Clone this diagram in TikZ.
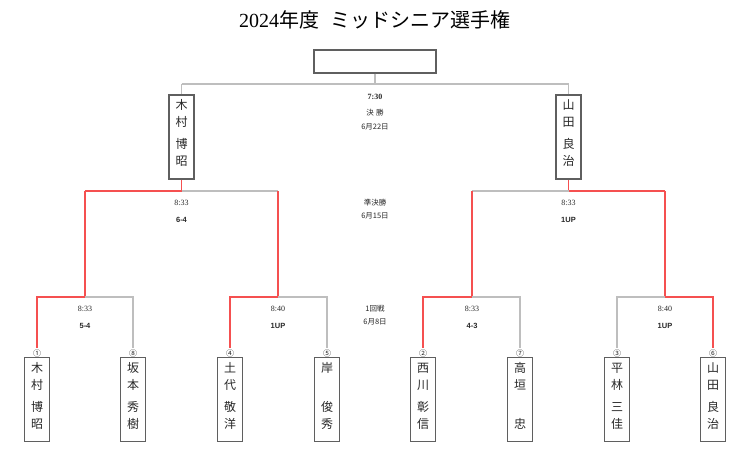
\documentclass[tikz,border=0pt]{standalone}
\usepackage{fontspec}
\setmainfont{Liberation Serif}
\newfontfamily\cjk{Noto Sans CJK JP}
\newfontfamily\scorefont{Liberation Sans}
\definecolor{winred}{RGB}{245,80,80}
\definecolor{losegray}{RGB}{190,190,190}
\definecolor{boxgray}{RGB}{95,95,95}
\definecolor{txt}{RGB}{40,40,40}
\begin{document}
\begin{tikzpicture}[x=1pt,y=-1pt,
  namebox/.style={draw=boxgray, line width=1.1pt, minimum width=25pt, minimum height=84pt, inner sep=0pt},
  champbox/.style={draw=boxgray, line width=1.1pt, minimum width=122pt, minimum height=23pt, inner sep=0pt},
  nametext/.style={font=\cjk\fontsize{12}{17}\selectfont, align=center, inner sep=0pt, text=txt},
  numtext/.style={font=\cjk\fontsize{8}{9}\selectfont, inner sep=0pt, text=txt},
  timetext/.style={font=\fontsize{8}{9}\selectfont, inner sep=0pt, text=txt},
  scoretext/.style={font=\scorefont\bfseries\fontsize{7.5}{9}\selectfont, inner sep=0pt, text=txt},
  roundtext/.style={font=\cjk\fontsize{7.5}{9}\selectfont, inner sep=0pt, text=txt},
  win/.style={draw=winred, line width=1.2pt},
  lose/.style={draw=losegray, line width=1.2pt}
]
\useasboundingbox (0,0) rectangle (750,464);
\fill[white] (0,0) rectangle (750,464);

% title
\node[font=\cjk\fontsize{20}{24}\selectfont, inner sep=0pt, text=black] (title) at (375,20) {{\rmfamily 2024}年度\hspace{0.6em}ミッドシニア選手権};

% champion box
\node[champbox] (champ) at (375,61.5) {};

% finalists
\node[namebox] (F1) at (181.5,137) {};
\node[nametext] (F1t) at (181.5,133) {木\\村\\[5pt]博\\昭};
\node[namebox] (F2) at (568.5,137) {};
\node[nametext] (F2t) at (568.5,133) {山\\田\\[5pt]良\\治};

% final bracket
\coordinate (fC) at (375,84);
\coordinate (fL) at (181.5,84);
\coordinate (fR) at (568.5,84);
\draw[lose] (champ.south) -- (fC);
\draw[lose] (fL) -- (fR);
\draw[lose] (fL) -- (F1.north);
\draw[lose] (fR) -- (F2.north);
\node[timetext, font=\bfseries\fontsize{8}{9}\selectfont] (t0) at (375,97) {7:30};
\node[roundtext] (r0) at (375,113) {決\hspace{0.3em}勝};
\node[roundtext] (d0) at (375,127) {6月22日};

% semifinal brackets
\coordinate (sL) at (85,191);
\coordinate (sM) at (181.5,191);
\coordinate (sR) at (278,191);
\coordinate (tL) at (472,191);
\coordinate (tM) at (568.5,191);
\coordinate (tR) at (665,191);
\draw[win] (F1.south) -- (sM);
\draw[win] (sM) -- (sL);
\draw[lose] (sM) -- (sR);
\draw[win] (F2.south) -- (tM);
\draw[lose] (tM) -- (tL);
\draw[win] (tM) -- (tR);

\node[timetext] (t1) at (181.5,203) {8:33};
\node[scoretext] (s1) at (181.5,220) {6-4};
\node[timetext] (t2) at (568.5,203) {8:33};
\node[scoretext] (s2) at (568.5,220) {1UP};
\node[roundtext] (r1) at (375,203) {準決勝};
\node[roundtext] (d1) at (375,216) {6月15日};

% first-round bracket points
\coordinate (a1) at (37,297);  \coordinate (m1) at (85,297);  \coordinate (b1) at (133,297);
\coordinate (a2) at (230,297); \coordinate (m2) at (278,297); \coordinate (b2) at (327,297);
\coordinate (a3) at (423,297); \coordinate (m3) at (472,297); \coordinate (b3) at (520,297);
\coordinate (a4) at (617,297); \coordinate (m4) at (665,297); \coordinate (b4) at (713,297);

\draw[win] (sL) -- (m1);
\draw[win] (sR) -- (m2);
\draw[win] (tL) -- (m3);
\draw[win] (tR) -- (m4);

% circled numbers
\node[numtext] (n1) at (37,353) {①};
\node[numtext] (n8) at (133,353) {⑧};
\node[numtext] (n4) at (230,353) {④};
\node[numtext] (n5) at (327,353) {⑤};
\node[numtext] (n2) at (423,353) {②};
\node[numtext] (n7) at (520,353) {⑦};
\node[numtext] (n3) at (617,353) {③};
\node[numtext] (n6) at (713,353) {⑥};

\draw[win] (m1) -- (a1) -- ([yshift=1.5pt]n1.north);
\draw[lose] (m1) -- (b1) -- ([yshift=1.5pt]n8.north);
\draw[win] (m2) -- (a2) -- ([yshift=1.5pt]n4.north);
\draw[lose] (m2) -- (b2) -- ([yshift=1.5pt]n5.north);
\draw[win] (m3) -- (a3) -- ([yshift=1.5pt]n2.north);
\draw[lose] (m3) -- (b3) -- ([yshift=1.5pt]n7.north);
\draw[lose] (m4) -- (a4) -- ([yshift=1.5pt]n3.north);
\draw[win] (m4) -- (b4) -- ([yshift=1.5pt]n6.north);

\node[timetext] (t3) at (85,309) {8:33};
\node[scoretext] (s3) at (85,326) {5-4};
\node[timetext] (t4) at (278,309) {8:40};
\node[scoretext] (s4) at (278,326) {1UP};
\node[timetext] (t5) at (472,309) {8:33};
\node[scoretext] (s5) at (472,326) {4-3};
\node[timetext] (t6) at (665,309) {8:40};
\node[scoretext] (s6) at (665,326) {1UP};
\node[roundtext] (r2) at (375,309) {1回戦};
\node[roundtext] (d2) at (375,322) {6月8日};

% first-round players
\node[namebox] (P1) at (37,399.5) {};
\node[nametext] (P1t) at (37,396) {木\\村\\[5pt]博\\昭};
\node[namebox] (P8) at (133,399.5) {};
\node[nametext] (P8t) at (133,396) {坂\\本\\[5pt]秀\\樹};
\node[namebox] (P4) at (230,399.5) {};
\node[nametext] (P4t) at (230,396) {土\\代\\[5pt]敬\\洋};
\node[namebox] (P5) at (327,399.5) {};
\node[nametext] (P5t) at (327,396) {岸\\\phantom{岸}\\[5pt]俊\\秀};
\node[namebox] (P2) at (423,399.5) {};
\node[nametext] (P2t) at (423,396) {西\\川\\[5pt]彰\\信};
\node[namebox] (P7) at (520,399.5) {};
\node[nametext] (P7t) at (520,396) {高\\垣\\[5pt]\phantom{忠}\\忠};
\node[namebox] (P3) at (617,399.5) {};
\node[nametext] (P3t) at (617,396) {平\\林\\[5pt]三\\佳};
\node[namebox] (P6) at (713,399.5) {};
\node[nametext] (P6t) at (713,396) {山\\田\\[5pt]良\\治};
\end{tikzpicture}
\end{document}
